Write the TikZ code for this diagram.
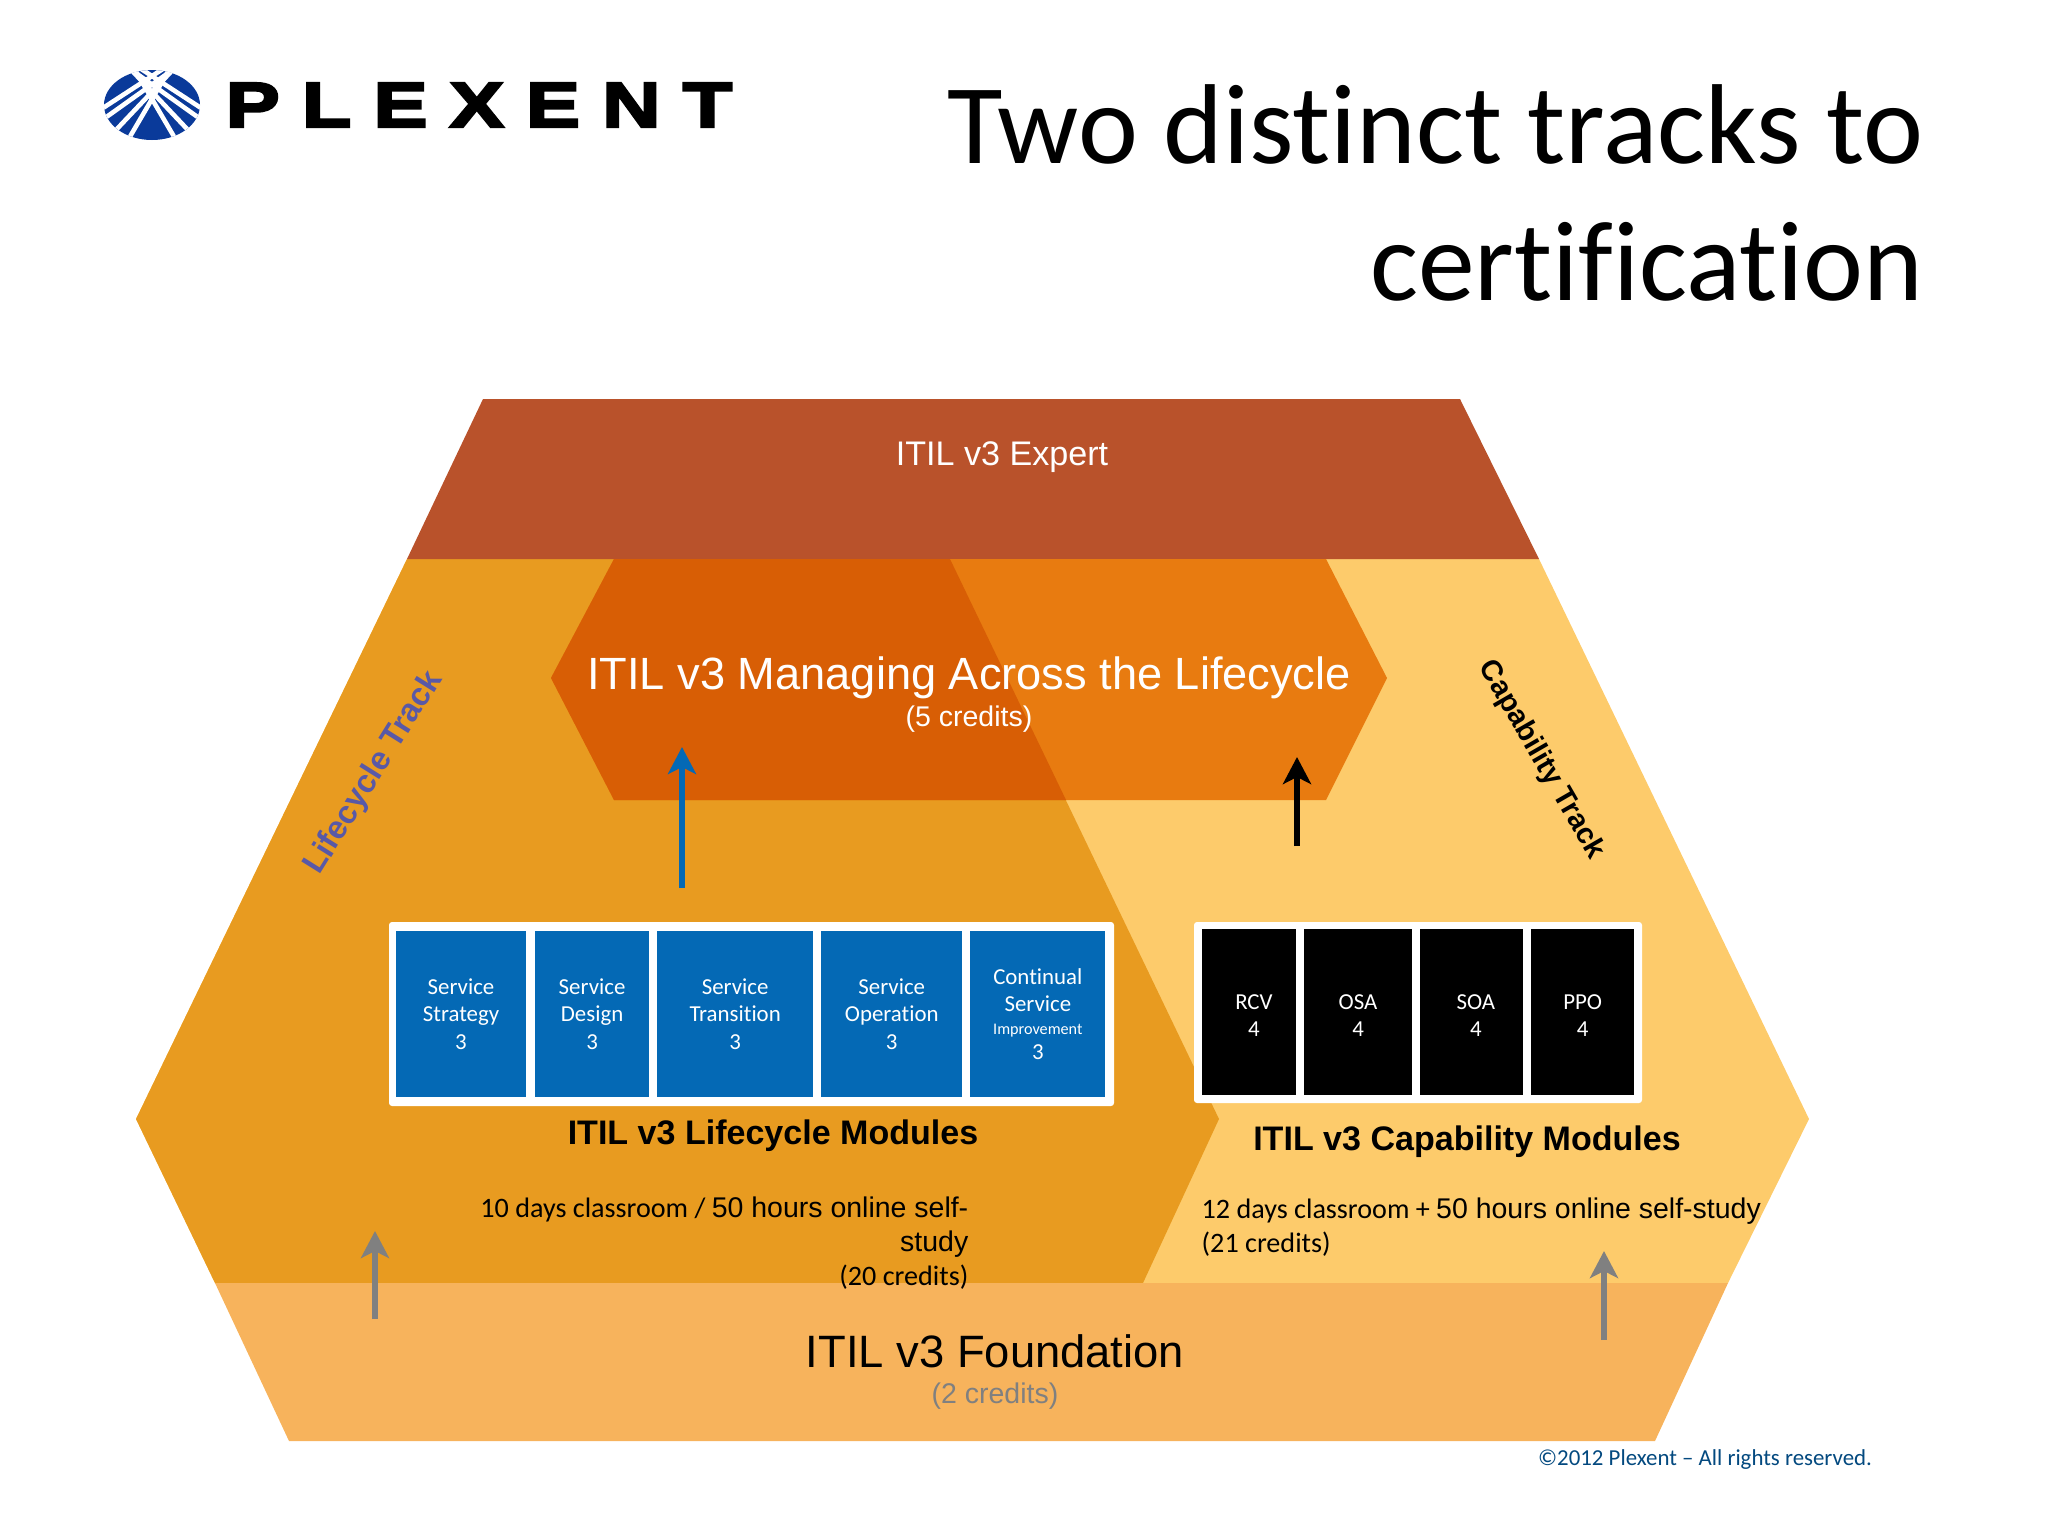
\documentclass[tikz,border=0pt]{standalone}
\usepackage{fontspec}
\usetikzlibrary{positioning,arrows.meta}
\setmainfont{Liberation Sans}
\newfontfamily\calfont[RawFeature={-liga}]{Carlito}
\newfontfamily\logofont[FakeStretch=1.28,FakeBold=4,LetterSpace=35]{Liberation Sans}
\definecolor{expertred}{HTML}{B9522B}
\definecolor{lifeorange}{HTML}{E89B20}
\definecolor{capyellow}{HTML}{FDCB6B}
\definecolor{foundorange}{HTML}{F7B35C}
\definecolor{manageleft}{HTML}{D85E05}
\definecolor{manageright}{HTML}{E87B10}
\definecolor{moduleblue}{HTML}{0469B5}
\definecolor{logoblue}{HTML}{0A3A9A}
\tikzset{
	modbox/.style={inner sep=0pt,outer sep=0pt,minimum height=1.66cm,text=white,align=center,
		font=\calfont\fontsize{6.5}{7.8}\selectfont},
	bluebox/.style={modbox,fill=moduleblue},
	blackbox/.style={modbox,fill=black},
	frame/.style={fill=white,rounded corners=0.03cm},
	head/.style={inner sep=0pt,align=center,font=\bfseries\fontsize{9.68}{11}\selectfont},
	body/.style={inner sep=0pt,font=\calfont\fontsize{8}{9.7}\selectfont},
	uparrow/.style={line width=1.6pt,-{Stealth[length=0.27cm,width=0.28cm,inset=0.07cm]}},
}
\begin{document}
\begin{tikzpicture}[x=0.01cm,y=-0.01cm]
	\useasboundingbox (0,0) rectangle (2048,1536);
	% logo
	\fill[logoblue] (152,105) ellipse [x radius=48,y radius=35];
	\begin{scope}
		\clip (152,105) ellipse [x radius=48,y radius=35];
		\foreach \sx/\sy/\tx/\ty in {112/50/201/108,112/56/199/118,120/58/188/130,135/70/176/140}{
			\draw[white,line width=1.3pt] (\sx,\sy) -- (\tx,\ty);
			\draw[white,line width=1.3pt] ({304-\sx},\sy) -- ({304-\tx},\ty);
		}
	\end{scope}
	\node[inner sep=0pt,anchor=west] (plexent) at (225,105) {\logofont\bfseries\fontsize{18}{20}\selectfont PLEXENT};
	% title
	\node[inner sep=0pt,align=right,anchor=north east,font=\calfont\fontsize{32.3}{38.9}\selectfont] (title) at (1924,84)
		{Two distinct tracks to\\certification};
	% levels
	\fill[capyellow] (407,559) -- (1539,559) -- (1809,1119) -- (1728,1283) -- (215,1283) -- (136,1119) -- cycle;
	\fill[lifeorange] (407,559) -- (950,559) -- (1219,1119) -- (1143,1283) -- (215,1283) -- (136,1119) -- cycle;
	\fill[foundorange] (215,1283) -- (1728,1283) -- (1655,1441) -- (289,1441) -- cycle;
	\fill[expertred] (483,399) -- (1460,399) -- (1539,559) -- (407,559) -- cycle;
	\fill[manageright] (614,559) -- (1326,559) -- (1387,678) -- (1326,800) -- (614,800) -- (551,678) -- cycle;
	\fill[manageleft] (614,559) -- (950,559) -- (1066,800) -- (614,800) -- (551,678) -- cycle;
	% level names
	\node[text=white,inner sep=0pt,font=\fontsize{9.7}{11}\selectfont] (expert) at (1002,457) {ITIL v3 Expert};
	\node[text=white,inner sep=0pt,font=\fontsize{12.85}{15}\selectfont] (manage) at (969,678) {ITIL v3 Managing Across the Lifecycle};
	\node[text=white,inner sep=0pt,font=\fontsize{8.1}{9}\selectfont] (managecr) at (969,719) {(5 credits)};
	\node[inner sep=0pt,font=\fontsize{12.9}{15}\selectfont] (found) at (995,1351) {ITIL v3 Foundation};
	\node[text=gray,inner sep=0pt,font=\fontsize{8.1}{9}\selectfont] (foundcr) at (995,1396) {(2 credits)};
	\node[text=blue!30!gray,rotate=58,inner sep=0pt,font=\bfseries\fontsize{9.2}{10}\selectfont] (lifetrack) at (374,773) {Lifecycle Track};
	\node[rotate=-60,inner sep=0pt,font=\bfseries\fontsize{8.3}{10}\selectfont] (captrack) at (1541,760) {Capability Track};
	% lifecycle modules
	\fill[frame] (389,922) rectangle (1114,1106);
	\node[bluebox,minimum width=1.30cm] (strategy) at (461,1014) {Service\\Strategy\\3};
	\node[bluebox,minimum width=1.14cm,right=0.09cm of strategy] (design) {Service\\Design\\3};
	\node[bluebox,minimum width=1.56cm,right=0.08cm of design] (transition) {Service\\Transition\\3};
	\node[bluebox,minimum width=1.41cm,right=0.08cm of transition] (operation) {Service\\Operation\\3};
	\node[bluebox,minimum width=1.35cm,right=0.08cm of operation] (continual) {Continual\\Service\\[-1.5pt]{\fontsize{4.6}{6.4}\selectfont Improvement}\\[-0.6pt]3};
	\node[head] (lifehead) at (773,1136) {ITIL v3 Lifecycle Modules};
	\node[body,align=right,anchor=north east] (lifebody) at (969,1196)
		{10 days classroom / {\normalfont\fontsize{8.1}{9.7}\selectfont 50 hours online self-}\\{\normalfont\fontsize{8.1}{9.7}\selectfont study}\\(20 credits)};
	% capability modules
	\fill[frame] (1194,922) rectangle (1642,1103);
	\node[blackbox,minimum width=0.94cm] (rcv) at (1249,1012) {\rule{0pt}{6.2pt}\hspace*{2.8pt}RCV\\\hspace*{2.8pt}4};
	\node[blackbox,minimum width=1.08cm,right=0.08cm of rcv] (osa) {\rule{0pt}{6.2pt}OSA\\4};
	\node[blackbox,minimum width=1.03cm,right=0.08cm of osa] (soa) {\rule{0pt}{6.2pt}\hspace*{2.4pt}SOA\\\hspace*{2.4pt}4};
	\node[blackbox,minimum width=1.03cm,right=0.08cm of soa] (ppo) {\rule{0pt}{6.2pt}PPO\\4};
	\node[head] (caphead) at (1467,1142) {ITIL v3 Capability Modules};
	\node[body,align=left,anchor=north west] (capbody) at (1201,1197)
		{12 days classroom + {\normalfont\fontsize{8.1}{9.7}\selectfont 50 hours online self-study}\\(21 credits)};
	% arrows
	\coordinate (bluefrom) at (682,888);
	\coordinate (blueto) at (682,747);
	\coordinate (blackfrom) at (1297,846);
	\coordinate (blackto) at (1297,757);
	\coordinate (leftfrom) at (375,1319);
	\coordinate (leftto) at (375,1231);
	\coordinate (rightfrom) at (1604,1340);
	\coordinate (rightto) at (1604,1251);
	\draw[uparrow,moduleblue] (bluefrom) -- (blueto);
	\draw[uparrow,black] (blackfrom) -- (blackto);
	\draw[uparrow,gray] (leftfrom) -- (leftto);
	\draw[uparrow,gray] (rightfrom) -- (rightto);
	% footer
	\node[text=moduleblue!70!black,inner sep=0pt,font=\calfont\fontsize{6.5}{7}\selectfont] (copy) at (1705,1460) {©2012 Plexent – All rights reserved.};
\end{tikzpicture}
\end{document}
